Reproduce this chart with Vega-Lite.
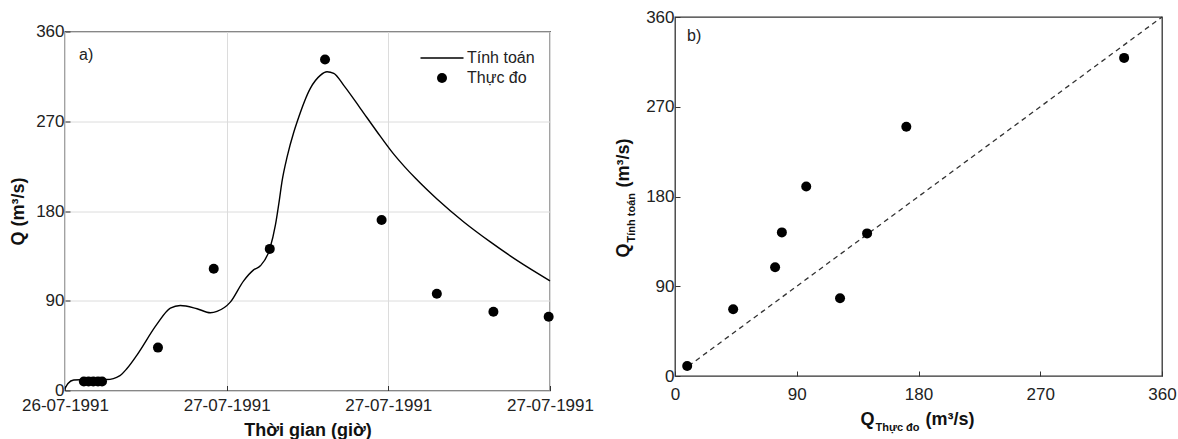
{
  "$schema": "https://vega.github.io/schema/vega-lite/v6.json",
  "padding": {"left": 8, "top": 7, "right": 0, "bottom": 0},
  "config": {
    "font": "Liberation Sans",
    "view": {"stroke": "#333", "strokeWidth": 1.3},
    "axis": {
      "grid": true, "gridColor": "#dcdcdc", "gridWidth": 1,
      "domain": false, "tickColor": "#333", "tickSize": -5,
      "labelFontSize": 17, "labelColor": "#222", "labelFont": "Liberation Sans",
      "titleFontSize": 18, "titleFontWeight": "bold", "titleColor": "#111", "titleFont": "Liberation Sans"
    }
  },
  "datasets": {
    "tinh_toan": [
      {"gio": 0, "Q": 2}, {"gio": 0.22, "Q": 7}, {"gio": 0.65, "Q": 10.5}, {"gio": 1.6, "Q": 11},
      {"gio": 3.1, "Q": 11}, {"gio": 4.08, "Q": 15}, {"gio": 4.6, "Q": 22}, {"gio": 5.34, "Q": 35.5},
      {"gio": 6.8, "Q": 66}, {"gio": 7.82, "Q": 82.6}, {"gio": 8.56, "Q": 85.3}, {"gio": 9.8, "Q": 82},
      {"gio": 10.79, "Q": 78}, {"gio": 11.28, "Q": 79.3}, {"gio": 12.27, "Q": 88.6}, {"gio": 13.26, "Q": 110},
      {"gio": 14.0, "Q": 121}, {"gio": 14.5, "Q": 125}, {"gio": 15.2, "Q": 142}, {"gio": 15.62, "Q": 166},
      {"gio": 15.9, "Q": 190}, {"gio": 16.1, "Q": 209}, {"gio": 16.5, "Q": 235}, {"gio": 16.98, "Q": 259},
      {"gio": 17.22, "Q": 269}, {"gio": 18.21, "Q": 303}, {"gio": 18.95, "Q": 316}, {"gio": 19.45, "Q": 319.6},
      {"gio": 19.95, "Q": 318}, {"gio": 20.69, "Q": 306}, {"gio": 21.92, "Q": 283}, {"gio": 23.16, "Q": 259.5},
      {"gio": 24.4, "Q": 237}, {"gio": 25.2, "Q": 224.5}, {"gio": 26.0, "Q": 213}, {"gio": 27.61, "Q": 192},
      {"gio": 29.6, "Q": 169}, {"gio": 31.57, "Q": 149}, {"gio": 33.55, "Q": 130.5}, {"gio": 36, "Q": 110}
    ],
    "thuc_do": [
      {"gio": 1.4, "Q": 9, "series": "Thực đo"}, {"gio": 1.75, "Q": 9, "series": "Thực đo"},
      {"gio": 2.1, "Q": 9, "series": "Thực đo"}, {"gio": 2.45, "Q": 9, "series": "Thực đo"},
      {"gio": 2.75, "Q": 9, "series": "Thực đo"}, {"gio": 6.9, "Q": 43, "series": "Thực đo"},
      {"gio": 11.04, "Q": 122, "series": "Thực đo"}, {"gio": 15.2, "Q": 142, "series": "Thực đo"},
      {"gio": 19.3, "Q": 332, "series": "Thực đo"}, {"gio": 23.5, "Q": 171, "series": "Thực đo"},
      {"gio": 27.6, "Q": 97, "series": "Thực đo"}, {"gio": 31.8, "Q": 79, "series": "Thực đo"},
      {"gio": 35.9, "Q": 74, "series": "Thực đo"}
    ],
    "scatter": [
      {"thuc_do": 9, "tinh_toan": 10}, {"thuc_do": 43, "tinh_toan": 67}, {"thuc_do": 122, "tinh_toan": 78},
      {"thuc_do": 142, "tinh_toan": 143}, {"thuc_do": 332, "tinh_toan": 319}, {"thuc_do": 171, "tinh_toan": 250},
      {"thuc_do": 97, "tinh_toan": 190}, {"thuc_do": 79, "tinh_toan": 144}, {"thuc_do": 74, "tinh_toan": 109}
    ]
  },
  "spacing": 18,
  "hconcat": [
    {
      "spacing": 3.5,
      "vconcat": [
        {
          "width": 485, "height": 1,
          "data": {"values": []},
          "mark": "point",
          "view": {"stroke": null}
        },
        {
          "width": 485, "height": 359,
          "layer": [
            {
              "data": {"name": "tinh_toan"},
              "mark": {"type": "line", "color": "black", "strokeWidth": 1.4, "interpolate": "monotone"},
              "encoding": {
                "x": {"field": "gio", "type": "quantitative", "scale": {"domain": [0, 36], "nice": false},
                  "axis": {"title": "Thời gian (giờ)", "values": [0, 12, 24, 36],
                    "labelExpr": "datum.value == 0 ? '26-07-1991' : '27-07-1991'",
                    "labelFlush": false, "labelPadding": 12, "titlePadding": 8}},
                "y": {"field": "Q", "type": "quantitative", "scale": {"domain": [0, 360], "nice": false},
                  "axis": {"title": "Q (m³/s)", "values": [0, 90, 180, 270, 360], "labelPadding": 6, "titlePadding": 8}}
              }
            },
            {
              "data": {"name": "thuc_do"},
              "mark": {"type": "point", "filled": true, "color": "black", "size": 100, "opacity": 1},
              "encoding": {
                "x": {"field": "gio", "type": "quantitative"},
                "y": {"field": "Q", "type": "quantitative"},
                "shape": {"field": "series", "type": "nominal",
                  "scale": {"domain": ["Tính toán", "Thực đo"], "range": ["M-4.3,-0.14H4.3V0.14H-4.3Z", "circle"]},
                  "legend": {"title": null, "orient": "none", "legendX": 369, "legendY": 33,
                    "labelFontSize": 16, "labelColor": "#222", "labelOffset": 17, "symbolSize": 100,
                    "rowPadding": 4,
                    "encode": {"symbols": {"update": {"fill": {"value": "black"}, "strokeWidth": {"value": 0}, "opacity": {"value": 1}}}}}}
              }
            },
            {
              "data": {"values": [{}]},
              "mark": {"type": "text", "align": "left", "baseline": "alphabetic", "dx": 14, "dy": 28, "fontSize": 16, "color": "#222"},
              "encoding": {"x": {"datum": 0, "type": "quantitative"}, "y": {"datum": 360, "type": "quantitative"}, "text": {"value": "a)"}}
            }
          ]
        }
      ]
    },
    {
      "width": 487, "height": 359,
      "layer": [
        {
          "data": {"values": [{}]},
          "mark": {"type": "rule", "strokeDash": [5, 4], "color": "#333", "strokeWidth": 1.3},
          "encoding": {
            "x": {"datum": 10, "type": "quantitative", "scale": {"domain": [0, 360], "nice": false},
              "axis": {"orient": "bottom", "labels": false, "ticks": false, "domain": false, "grid": false,
                "title": "Q", "titleX": 185, "titleY": 48, "titleAlign": "left", "titleBaseline": "alphabetic", "titleAngle": 0}},
            "y": {"datum": 10, "type": "quantitative", "scale": {"domain": [0, 360], "nice": false},
              "axis": {"orient": "left", "labels": false, "ticks": false, "domain": false, "grid": false,
                "title": "Q", "titleX": -47, "titleY": 240, "titleAlign": "left", "titleBaseline": "alphabetic", "titleAngle": 270}},
            "x2": {"datum": 360},
            "y2": {"datum": 360}
          }
        },
        {
          "data": {"name": "scatter"},
          "mark": {"type": "point", "filled": true, "color": "black", "size": 100, "opacity": 1},
          "encoding": {
            "x": {"field": "thuc_do", "type": "quantitative",
              "axis": {"orient": "bottom", "values": [0, 90, 180, 270, 360], "labelFlush": false, "labelPadding": 15,
                "title": "Thực đo", "titleFontSize": 11, "titleX": 200, "titleY": 54, "titleAlign": "left", "titleBaseline": "alphabetic", "titleAngle": 0}},
            "y": {"field": "tinh_toan", "type": "quantitative",
              "axis": {"orient": "left", "values": [0, 90, 180, 270, 360], "labelPadding": 6,
                "title": "Tính toán", "titleFontSize": 11, "titleX": -41, "titleY": 225, "titleAlign": "left", "titleBaseline": "alphabetic", "titleAngle": 270}}
          }
        },
        {
          "data": {"values": [{}]},
          "mark": {"type": "text", "align": "left", "baseline": "alphabetic", "dx": 12, "dy": 24, "fontSize": 16, "color": "#222"},
          "encoding": {
            "x": {"datum": 0, "type": "quantitative",
              "axis": {"orient": "bottom", "labels": false, "ticks": false, "domain": false, "grid": false,
                "title": "(m³/s)", "titleX": 250, "titleY": 48, "titleAlign": "left", "titleBaseline": "alphabetic", "titleAngle": 0}},
            "y": {"datum": 360, "type": "quantitative",
              "axis": {"orient": "left", "labels": false, "ticks": false, "domain": false, "grid": false,
                "title": "(m³/s)", "titleX": -47, "titleY": 170, "titleAlign": "left", "titleBaseline": "alphabetic", "titleAngle": 270}},
            "text": {"value": "b)"}
          }
        }
      ],
      "resolve": {"axis": {"x": "independent", "y": "independent"}}
    }
  ]
}
